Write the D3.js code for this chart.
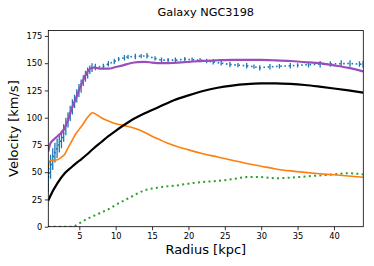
<!DOCTYPE html>
<html><head><meta charset="utf-8">
<script src="https://cdn.jsdelivr.net/npm/d3@7"></script>
<style>body{margin:0;background:#fff}svg{display:block}text{font-family:"DejaVu Sans",sans-serif}</style>
</head><body><div id="c"></div>
<script>
// ---- data ----
const title = "Galaxy NGC3198";
const xTicks = [5,10,15,20,25,30,35,40];
const yTicks = [0,25,50,75,100,125,150,175];

const obsR   = [0.74,1.05,1.35,1.65,1.95,2.25,2.55,2.85,3.15,3.45,3.75,4.05,4.35,4.65,4.95,5.25,5.55,5.85,6.15,6.45,6.75,7.2,8.3,9.0,9.8,10.4,11.2,11.7,12.7,13.5,14.3,15.4,16.3,17.2,18.2,19.5,20.5,21.6,22.5,23.4,24.5,25.7,26.8,28,29,29.8,31.2,32.5,34,35,36.5,38.1,39.5,41,42.2,43.5,44];
const obsV   = [45,55,62,68,72,76,80,86,92,98,104,110,115,120,125,129,134,138,141,144,146,146.5,147,149.5,151.5,153.7,155,155.8,156.2,156.5,156.8,154.4,152.8,152.8,152.8,153.7,153.2,152.8,152,151.2,150,148.8,148.2,147.6,146.8,145.7,146.7,147.2,147.6,148,148.6,149.1,149.3,149.6,149.7,149.2,149];
const obsErr = [13,11,10,9,9,8,8,8,8,7,7,7,6,6,6,6,5,5,5,4,4,3,2.5,2.5,2.5,2,2.5,2,2.5,2,2.5,2,2.5,2,2.5,2,2,2,2,2.5,2,2.5,2,2.5,2,2.5,2.5,2,2.5,2,2.5,3,2.5,3,3,2.5,3];

const totR = [0.74,1,1.5,2,2.5,3,3.5,4,4.5,5,5.5,6,6.5,7,8,9,10,11,12,13,14,15,16,17,18,19,20,22,24,26,28,30,32,34,36,38,40,42,44];
const totV = [69,76,80,83,86,91,99,109,117,126,134,141,145,146,145,145,146.5,148,150,151,151.2,150.6,150,150,150.3,150.7,151.2,152.2,152.7,153,153,153,152.6,152,151,150,148,145.7,142.5];

const diskR = [0.74,0.9,1.2,2,2.5,3,3.5,4,4.5,5,5.5,6,6.5,6.8,7.2,8,9,10,11,12,13,14,15,16,17,18,20,22,24,26,28,30,32,34,36,38,40,42,44];
const diskV = [55,60,61,61.5,63.5,66.5,73,79,85,89.5,94,99,103,104.5,103.5,100,97,94.5,93,91.5,89.5,86.5,83,80,77,74.5,70.5,67,64,61,58,55.5,53,51.2,49.8,48.6,47.6,46.5,45.3];

const gasR = [0.74,2,3,4,5,6,7,8,9,10,11,12,13,14,15,16,17,18,20,22,24,26,28,30,32,34,36,38,40,42,44];
const gasV = [0,0,0,0,3,7,10,13,16,20,23.5,27,30.5,33.5,35,36,37,37.5,39.5,41,42,43.5,45.5,45.5,44.5,45,46,47,48,49,48];

const haloR = [0.74,1,2,3,4,5,6,7,8,9,10,12,14,16,18,20,22,24,26,28,30,32,34,36,38,40,42,44];
const haloV = [24,28,40,49,55,60.5,66,72,77.5,83,88,97,104,110,116,120.5,124.5,127.5,129.5,130.8,131.4,131.5,131,130,128.5,126.8,125,123];

// ---- layout ----
const W=374,H=266, L=48.3,R=363.3,T=30.5,B=226.7;
const svg=d3.select("#c").append("svg").attr("width",W).attr("height",H);
const x=d3.scaleLinear().domain([0.74,44.03]).range([L,R]);
const y=d3.scaleLinear().domain([0,180]).range([B,T]);

const clip=svg.append("defs").append("clipPath").attr("id","cp").append("rect")
  .attr("x",L).attr("y",T).attr("width",R-L).attr("height",B-T);
const g=svg.append("g").attr("clip-path","url(#cp)");

const line=d3.line().x(d=>x(d[0])).y(d=>y(d[1])).curve(d3.curveMonotoneX);
const zip=(a,b)=>a.map((v,i)=>[v,b[i]]);

// observed
g.append("path").datum(zip(obsR,obsV)).attr("d",d3.line().x(d=>x(d[0])).y(d=>y(d[1])))
  .attr("fill","none").attr("stroke","#1f77b4").attr("stroke-width",1.6).attr("stroke-dasharray","1.6,2.6");
g.selectAll("line.err").data(obsR).join("line").attr("class","err")
  .attr("x1",(d)=>x(d)).attr("x2",d=>x(d))
  .attr("y1",(d,i)=>y(obsV[i]-obsErr[i])).attr("y2",(d,i)=>y(obsV[i]+obsErr[i]))
  .attr("stroke","#1f77b4").attr("stroke-width",1.3);

g.append("path").datum(zip(gasR,gasV)).attr("d",line).attr("fill","none")
  .attr("stroke","#2ca02c").attr("stroke-width",2).attr("stroke-dasharray","2,3.3");
g.append("path").datum(zip(diskR,diskV)).attr("d",line).attr("fill","none")
  .attr("stroke","#ff7f0e").attr("stroke-width",1.6);
g.append("path").datum(zip(haloR,haloV)).attr("d",line).attr("fill","none")
  .attr("stroke","#000").attr("stroke-width",2.2);
g.append("path").datum(zip(totR,totV)).attr("d",line).attr("fill","none")
  .attr("stroke","#9c4dbd").attr("stroke-width",2.2);

// axes
const xa=svg.append("g").attr("transform",`translate(0,${B})`)
  .call(d3.axisBottom(x).tickValues(xTicks).tickSize(3.5).tickPadding(2.5));
const ya=svg.append("g").attr("transform",`translate(${L},0)`)
  .call(d3.axisLeft(y).tickValues(yTicks).tickSize(3.5).tickPadding(2.5));
[xa,ya].forEach(a=>{a.select(".domain").remove();
  a.selectAll("text").attr("font-size",8.3).attr("fill","#000").attr("font-family","DejaVu Sans");
  a.selectAll("line").attr("stroke","#000").attr("stroke-width",0.8);});
svg.append("rect").attr("x",L).attr("y",T).attr("width",R-L).attr("height",B-T)
  .attr("fill","none").attr("stroke","#000").attr("stroke-width",0.8);

svg.append("text").attr("x",(L+R)/2).attr("y",16).attr("text-anchor","middle")
  .attr("font-size",11.3).text(title);
svg.append("text").attr("x",(L+R)/2).attr("y",254).attr("text-anchor","middle")
  .attr("font-size",13).text("Radius [kpc]");
svg.append("text").attr("transform",`translate(18,${(T+B)/2}) rotate(-90)`).attr("text-anchor","middle")
  .attr("font-size",13).text("Velocity [km/s]");
</script></body></html>
